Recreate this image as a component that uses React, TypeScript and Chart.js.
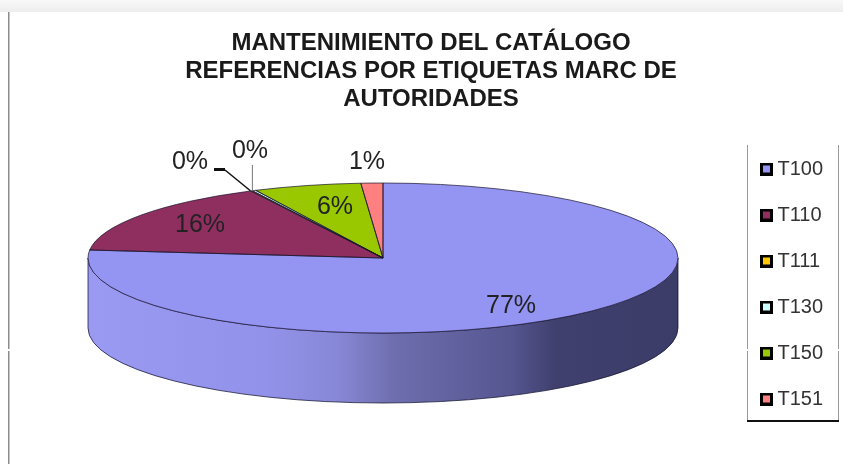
import React, { useEffect, useRef } from "react";
import { Chart, registerables } from "chart.js";

Chart.register(...registerables);

const categories = ["T100", "T110", "T111", "T130", "T150", "T151"];
const shares = [76.7, 15.9, 0.1, 0.2, 5.9, 1.2];
const sliceColors = ["#9494F2", "#8F2F60", "#FFC800", "#CCFFFF", "#99C800", "#FF8080"];
const titleLines = ["MANTENIMIENTO DEL CATÁLOGO", "REFERENCIAS POR ETIQUETAS MARC DE", "AUTORIDADES"];

const FONT = "'Liberation Sans', Arial, sans-serif";
const PIE = { cx: 383, cy: 258, rx: 295, ry: 75, depth: 70 };
const LABEL_POS = [
  [511, 306],
  [200, 225],
  [190, 162],
  [250, 151],
  [335, 207],
  [367, 162],
];
const WALL_STOPS: [number, string][] = [
  [0, "#9A9AF2"],
  [0.3, "#9292EA"],
  [0.42, "#8888D8"],
  [0.52, "#6E6EAE"],
  [0.72, "#555590"],
  [0.79, "#40406F"],
  [1, "#3C3C68"],
];

function makeSwatch(color: string) {
  const c = document.createElement("canvas");
  c.width = 13;
  c.height = 13;
  const x = c.getContext("2d") as CanvasRenderingContext2D;
  x.fillStyle = "#000000";
  x.fillRect(0, 0, 13, 13);
  x.fillStyle = color;
  x.fillRect(3, 3, 7, 7);
  return c;
}

const pie3d = {
  id: "pie3d",
  beforeDraw(chart: any) {
    const { ctx, width, height } = chart;
    ctx.save();
    ctx.fillStyle = "#FFFFFF";
    ctx.fillRect(0, 0, width, height);
    const g = ctx.createLinearGradient(0, 0, 0, 13);
    g.addColorStop(0, "#F8F8F8");
    g.addColorStop(1, "#EDEDED");
    ctx.fillStyle = g;
    ctx.fillRect(0, 0, width, 12);
    ctx.fillStyle = "#8C8C8C";
    ctx.fillRect(8, 12, 1.5, height - 12);
    // legend frame
    ctx.fillStyle = "#9A9A9A";
    ctx.fillRect(747, 145, 1, 276);
    ctx.fillRect(838, 145, 1, 276);
    ctx.fillStyle = "#111111";
    ctx.fillRect(747, 420, 92, 2);
    // faint scan break crossing the frame
    ctx.fillStyle = "#FFFFFF";
    ctx.fillRect(6, 349, 6, 2);
    ctx.fillRect(745, 349, 5, 2);
    ctx.fillRect(836, 349, 5, 2);
    ctx.restore();
  },
  afterLayout(chart: any) {
    const lg = chart.legend;
    const h = lg.height;
    lg.left = 739.5;
    lg.right = lg.left + lg.width;
    lg.top = 133;
    lg.bottom = lg.top + h;
  },
  beforeDatasetsDraw(chart: any) {
    const { ctx } = chart;
    const arcs = chart.getDatasetMeta(0).data;
    const { cx, cy, rx, ry, depth } = PIE;
    arcs.forEach((arc: any, i: number) => {
      const a = Math.max(arc.startAngle, 0);
      const b = Math.min(arc.endAngle, Math.PI);
      if (b <= a) return;
      const g = ctx.createLinearGradient(cx - rx, 0, cx + rx, 0);
      WALL_STOPS.forEach(([p, c]) => g.addColorStop(p, c));
      ctx.beginPath();
      ctx.ellipse(cx, cy, rx, ry, 0, a, b, false);
      ctx.ellipse(cx, cy + depth, rx, ry, 0, b, a, true);
      ctx.closePath();
      ctx.fillStyle = i === 0 ? g : sliceColors[i];
      ctx.fill();
      ctx.strokeStyle = "rgba(20,20,50,0.75)";
      ctx.lineWidth = 1;
      ctx.stroke();
    });
    const arc = arcs[0];
    ctx.save();
    ctx.translate(cx, cy);
    ctx.scale(rx / arc.outerRadius, ry / arc.outerRadius);
    ctx.translate(-arc.x, -arc.y);
  },
  afterDatasetsDraw(chart: any) {
    const { ctx } = chart;
    ctx.restore();
    const arcs = chart.getDatasetMeta(0).data;
    const { cx, cy, rx, ry } = PIE;
    ctx.save();
    arcs.forEach((arc: any) => {
      ctx.beginPath();
      ctx.moveTo(cx, cy);
      ctx.ellipse(cx, cy, rx, ry, 0, arc.startAngle, arc.endAngle, false);
      ctx.closePath();
      ctx.strokeStyle = "rgba(25,20,45,0.7)";
      ctx.lineWidth = 1;
      ctx.stroke();
    });
    // leader lines for the two tiny slices
    const ang = arcs[2].endAngle;
    const ax = cx + rx * Math.cos(ang);
    const ay = cy + ry * Math.sin(ang);
    ctx.strokeStyle = "#111111";
    ctx.lineWidth = 1.5;
    ctx.beginPath();
    ctx.moveTo(225, 170);
    ctx.lineTo(ax - 2, ay);
    ctx.stroke();
    ctx.fillStyle = "#111111";
    ctx.fillRect(214, 168, 11, 3);
    ctx.strokeStyle = "#777777";
    ctx.lineWidth = 1;
    ctx.beginPath();
    ctx.moveTo(ax, 165);
    ctx.lineTo(ax, ay);
    ctx.stroke();
    // percentage labels
    const total = shares.reduce((s, v) => s + v, 0);
    ctx.font = `25px ${FONT}`;
    ctx.fillStyle = "#222222";
    ctx.textAlign = "center";
    ctx.textBaseline = "middle";
    shares.forEach((v, i) => {
      ctx.fillText(`${Math.round((v / total) * 100)}%`, LABEL_POS[i][0], LABEL_POS[i][1]);
    });
    ctx.restore();
  },
};

export default function App() {
  const ref = useRef<HTMLCanvasElement>(null);
  useEffect(() => {
    document.body.style.margin = "0";
    const swatches = sliceColors.map(makeSwatch);
    const chart = new Chart(ref.current as HTMLCanvasElement, {
      type: "pie",
      data: {
        labels: categories,
        datasets: [
          {
            data: shares,
            backgroundColor: sliceColors,
            borderWidth: 0,
            clip: false,
          } as any,
        ],
      },
      options: {
        responsive: false,
        animation: false,
        layout: { padding: { left: 19, right: 0, top: 0, bottom: 0 } },
        plugins: {
          tooltip: { enabled: false },
          title: {
            display: true,
            text: titleLines,
            color: "#1A1A1A",
            font: { family: FONT, size: 24, weight: "bold", lineHeight: 1.17 },
            padding: { top: 29, bottom: 10 },
          },
          legend: {
            display: true,
            position: "right",
            align: "start",
            labels: {
              color: "#333333",
              font: { family: FONT, size: 20 },
              usePointStyle: true,
              pointStyleWidth: 2,
              padding: 26,
              generateLabels(c: any) {
                const base = (Chart as any).overrides.pie.plugins.legend.labels.generateLabels(c);
                return base.map((it: any, i: number) => ({ ...it, pointStyle: swatches[i] }));
              },
            },
          },
        },
      },
      plugins: [pie3d],
    } as any);
    return () => chart.destroy();
  }, []);
  return <canvas ref={ref} width={843} height={464} style={{ display: "block" }} />;
}
